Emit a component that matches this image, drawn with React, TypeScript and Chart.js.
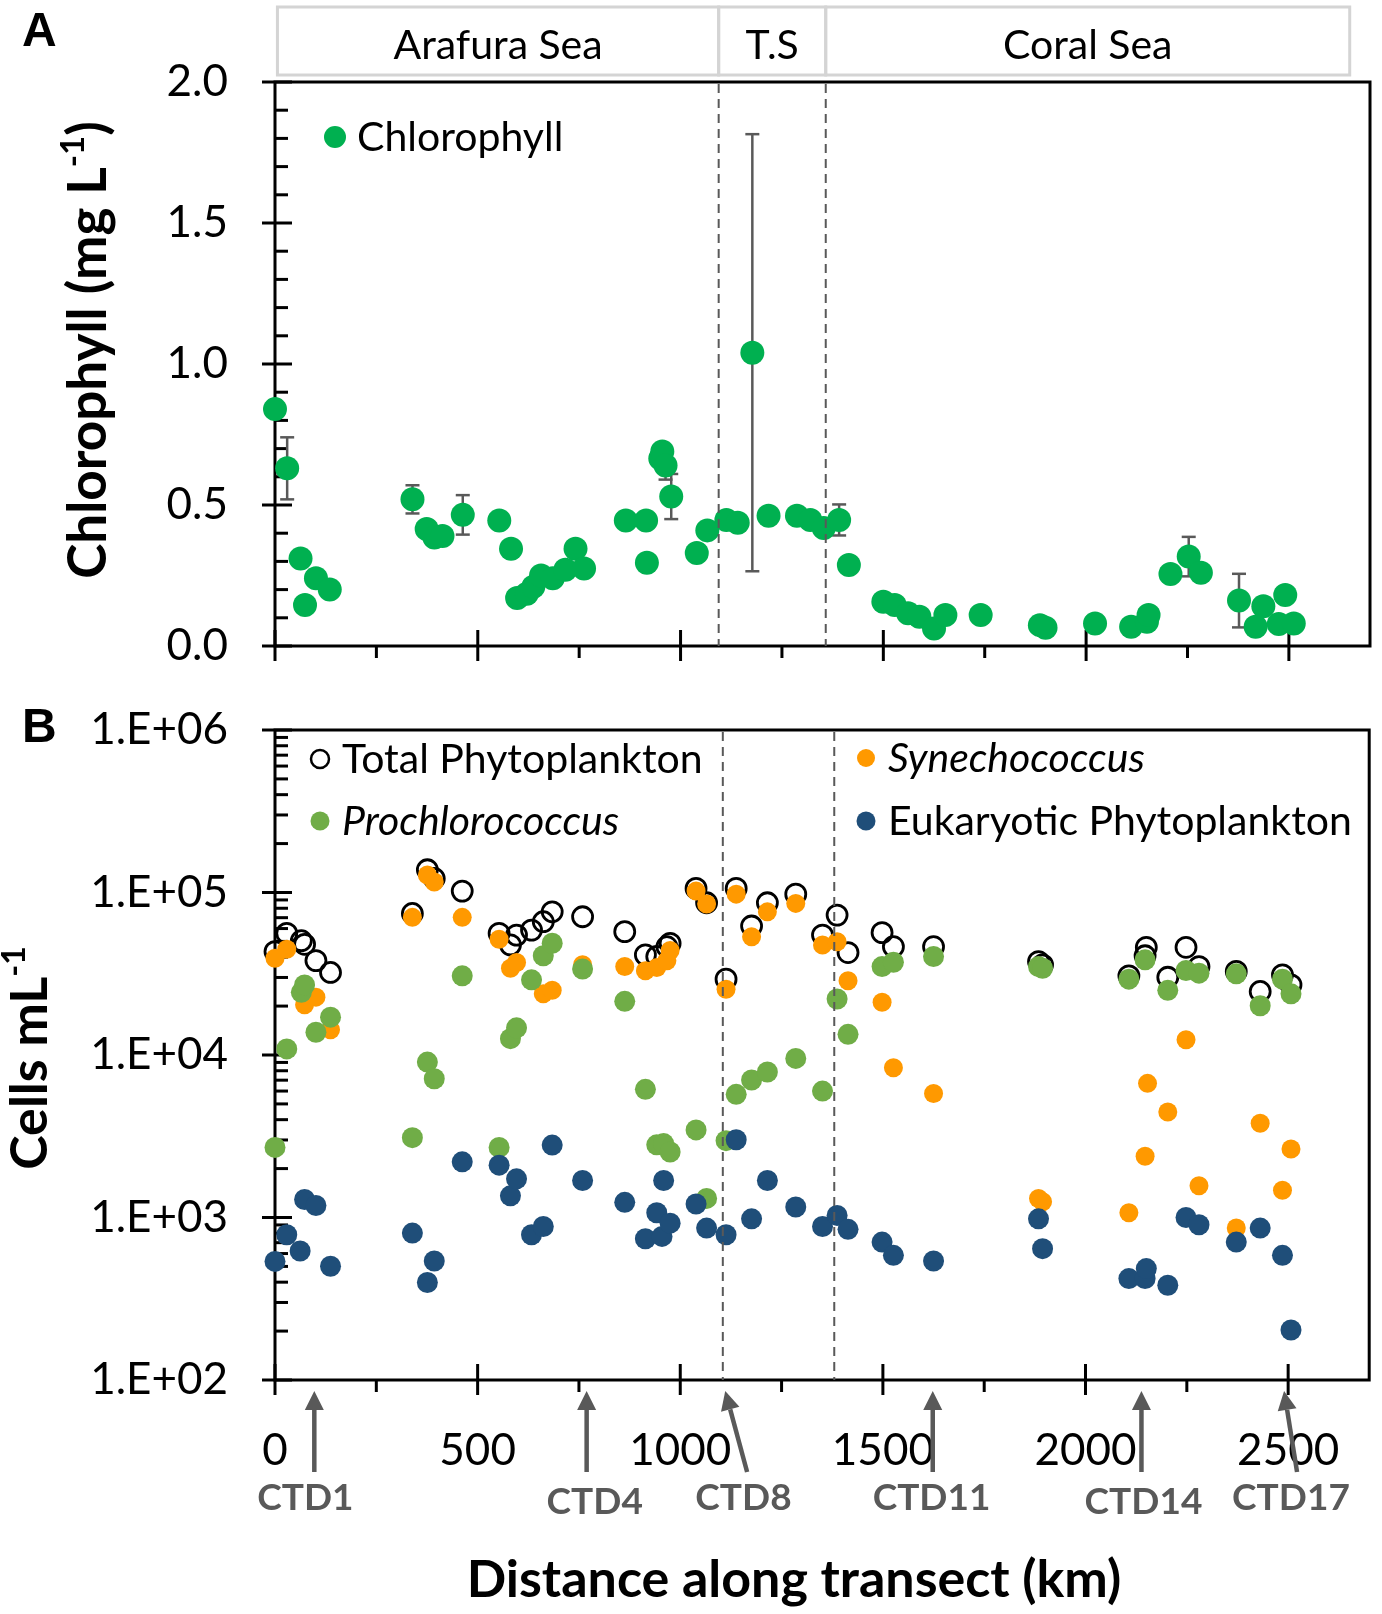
import React, { useEffect, useRef } from 'react';
import { Chart, registerables } from 'chart.js';

Chart.register(...registerables);

const W = 1382;
const TOP_H = 690;
const BOTTOM_H = 924;
const FONT = 'Lato, "Open Sans", sans-serif';
const GREY = '#595959';

// Panel A: distance (km), chlorophyll (mg/L), error (sd)
const chlorophyll: [number, number, number][] = [
  [0, 0.84, 0], [30, 0.63, 0.11], [63, 0.31, 0], [74, 0.145, 0], [101, 0.24, 0], [135, 0.2, 0],
  [339, 0.52, 0.05], [374, 0.415, 0], [393, 0.385, 0], [413, 0.39, 0], [463, 0.465, 0.07],
  [553, 0.445, 0], [582, 0.345, 0], [597, 0.17, 0], [621, 0.185, 0], [637, 0.21, 0], [656, 0.25, 0],
  [685, 0.24, 0], [716, 0.27, 0], [741, 0.345, 0], [762, 0.275, 0],
  [865, 0.445, 0], [915, 0.445, 0], [917, 0.295, 0], [950, 0.665, 0], [955, 0.69, 0],
  [963, 0.64, 0.05], [977, 0.53, 0.08],
  [1040, 0.33, 0], [1066, 0.41, 0], [1113, 0.447, 0], [1141, 0.437, 0], [1177, 1.04, 0.775],
  [1217, 0.462, 0], [1287, 0.462, 0], [1320, 0.447, 0], [1353, 0.418, 0], [1391, 0.447, 0.055],
  [1415, 0.287, 0], [1500, 0.157, 0], [1528, 0.145, 0], [1561, 0.116, 0], [1589, 0.104, 0],
  [1625, 0.062, 0], [1653, 0.11, 0], [1740, 0.11, 0], [1886, 0.074, 0], [1900, 0.065, 0],
  [2022, 0.08, 0], [2111, 0.068, 0], [2150, 0.086, 0], [2154, 0.11, 0], [2208, 0.255, 0],
  [2253, 0.317, 0.07], [2283, 0.26, 0], [2377, 0.161, 0.095], [2418, 0.068, 0], [2437, 0.141, 0],
  [2475, 0.078, 0], [2491, 0.181, 0], [2512, 0.08, 0],
];

const regions = [
  { label: 'Arafura Sea', from: 6, to: 1094 },
  { label: 'T.S', from: 1094, to: 1358 },
  { label: 'Coral Sea', from: 1358, to: 2650 },
];
const boundariesA = [1094, 1358];
const boundariesB = [1105, 1380];

// Panel B: distance (km), cells per mL
const totalPhyto: [number, number][] = [
  [0, 43300], [29, 56100], [65, 50500], [73, 48000], [101, 38100], [137, 32200],
  [339, 74300], [376, 138000], [393, 122000], [462, 102000], [553, 56100], [581, 47600],
  [596, 54700], [633, 58700], [662, 66100], [684, 76100], [759, 70900], [863, 57400],
  [914, 41300], [942, 40400], [967, 46400], [975, 48700], [1039, 106000], [1065, 86500],
  [1113, 29300], [1138, 106000], [1176, 62200], [1215, 86500], [1285, 97700], [1351, 54700],
  [1387, 72600], [1414, 42700], [1498, 56600], [1526, 46400], [1625, 46400], [1884, 37600],
  [1894, 35900], [2107, 30700], [2147, 40800], [2150, 46000], [2203, 30100], [2248, 46000],
  [2280, 35000], [2372, 32700], [2431, 24600], [2486, 31100], [2507, 27000],
];
const synechococcus: [number, number][] = [
  [0, 39400], [29, 44700], [73, 20400], [101, 22700], [137, 14300], [339, 70300],
  [376, 128000], [393, 116000], [462, 70300], [553, 51500], [581, 34200], [596, 37100],
  [662, 23800], [684, 25000], [759, 35900], [863, 35000], [914, 33000], [942, 34500],
  [967, 38000], [975, 44000], [1039, 102000], [1065, 84900], [1113, 25400], [1138, 97700],
  [1176, 53400], [1215, 76000], [1285, 85700], [1351, 47500], [1387, 49800], [1414, 28600],
  [1498, 21100], [1526, 8350], [1625, 5800], [1884, 1310], [1894, 1250], [2107, 1070],
  [2147, 2380], [2153, 6690], [2203, 4460], [2248, 12400], [2280, 1570], [2372, 861],
  [2431, 3800], [2486, 1470], [2507, 2640],
];
const prochlorococcus: [number, number][] = [
  [0, 2700], [29, 10900], [65, 24300], [73, 27000], [101, 13800], [137, 17100], [339, 3100],
  [376, 9040], [393, 7140], [462, 30700], [553, 2700], [581, 12600], [596, 14700], [633, 29000],
  [662, 40800], [684, 48700], [759, 33800], [863, 21400], [914, 6150], [942, 2800], [959, 2850],
  [975, 2530], [1039, 3460], [1065, 1310], [1113, 2970], [1138, 5730], [1176, 7020],
  [1215, 7860], [1285, 9530], [1351, 6000], [1387, 22100], [1414, 13400], [1498, 35000],
  [1526, 37200], [1625, 40400], [1884, 35000], [1894, 34200], [2107, 29300], [2147, 38500],
  [2203, 25000], [2248, 33100], [2280, 31900], [2372, 31600], [2431, 20100], [2486, 29300],
  [2507, 23800],
];
const eukaryotes: [number, number][] = [
  [0, 537], [29, 783], [62, 622], [73, 1290], [101, 1185], [137, 501], [339, 802], [376, 398],
  [393, 540], [462, 2200], [553, 2100], [581, 1360], [596, 1730], [633, 783], [662, 880],
  [684, 2790], [759, 1690], [863, 1240], [914, 740], [942, 1070], [955, 765], [959, 1690],
  [975, 923], [1039, 1210], [1065, 861], [1113, 783], [1138, 3010], [1176, 981], [1215, 1690],
  [1285, 1160], [1351, 880], [1387, 1030], [1414, 846], [1498, 706], [1526, 585], [1625, 540],
  [1884, 981], [1894, 643], [2107, 421], [2147, 421], [2150, 485], [2203, 383], [2248, 1000],
  [2280, 902], [2372, 706], [2431, 861], [2486, 585], [2507, 203],
];

// CTD stations: arrow tip, arrow base and label position (km)
const ctdStations = [
  { label: 'CTD1', tip: 97, base: 97, text: 75, dy: 0 },
  { label: 'CTD4', tip: 769, base: 769, text: 789, dy: 4 },
  { label: 'CTD8', tip: 1111, base: 1165, text: 1156, dy: 0 },
  { label: 'CTD11', tip: 1623, base: 1623, text: 1620, dy: 0 },
  { label: 'CTD14', tip: 2138, base: 2138, text: 2143, dy: 4 },
  { label: 'CTD17', tip: 2490, base: 2522, text: 2507, dy: 0 },
];

const xMajor = [0, 500, 1000, 1500, 2000, 2500];
const xMinor = [250, 750, 1250, 1750, 2250];
const chlTicks = [0, 0.5, 1, 1.5, 2];
const cellTicks = [1e2, 1e3, 1e4, 1e5, 1e6];

const GREEN = '#00B050';
const PRO = '#70AD47';
const SYN = '#FF9900';
const EUK = '#1F4E79';

const line = (ctx: CanvasRenderingContext2D, x1: number, y1: number, x2: number, y2: number) => {
  ctx.beginPath();
  ctx.moveTo(x1, y1);
  ctx.lineTo(x2, y2);
  ctx.stroke();
};

function drawFrame(chart: any, yMajor: number[], yMinor: number[]) {
  const { ctx, chartArea: a, scales } = chart;
  const x = scales.x;
  const y = scales.y;
  ctx.save();
  ctx.strokeStyle = '#000';
  ctx.lineWidth = 3;
  ctx.strokeRect(a.left, a.top, a.right - a.left, a.bottom - a.top);
  xMajor.forEach((v) => {
    const px = x.getPixelForValue(v);
    line(ctx, px, a.bottom - 16, px, a.bottom + 15);
  });
  xMinor.forEach((v) => {
    const px = x.getPixelForValue(v);
    line(ctx, px, a.bottom, px, a.bottom + 12);
  });
  yMajor.forEach((v) => {
    const py = y.getPixelForValue(v);
    line(ctx, a.left - 13, py, a.left + 17, py);
  });
  yMinor.forEach((v) => {
    const py = y.getPixelForValue(v);
    line(ctx, a.left, py, a.left + 13, py);
  });
  ctx.restore();
}

function drawDashed(chart: any, kms: number[]) {
  const { ctx, chartArea: a, scales } = chart;
  ctx.save();
  ctx.strokeStyle = GREY;
  ctx.lineWidth = 2;
  ctx.setLineDash([9, 6]);
  kms.forEach((k) => {
    const px = scales.x.getPixelForValue(k);
    line(ctx, px, a.top + 2, px, a.bottom);
  });
  ctx.restore();
}

function drawRotatedTitle(ctx: CanvasRenderingContext2D, main: string, sup: string, tail: string,
  x: number, y: number, size: number) {
  ctx.save();
  ctx.translate(x, y);
  ctx.rotate(-Math.PI / 2);
  const big = `bold ${size}px ${FONT}`;
  const small = `bold ${Math.round(size * 0.62)}px ${FONT}`;
  ctx.font = big;
  const w1 = ctx.measureText(main).width;
  const w3 = ctx.measureText(tail).width;
  ctx.font = small;
  const w2 = ctx.measureText(sup).width;
  let cx = -(w1 + w2 + w3) / 2;
  ctx.fillStyle = '#000';
  ctx.textAlign = 'left';
  ctx.textBaseline = 'alphabetic';
  ctx.font = big;
  ctx.fillText(main, cx, 0);
  cx += w1;
  ctx.font = small;
  ctx.fillText(sup, cx, -size * 0.42);
  cx += w2;
  ctx.font = big;
  ctx.fillText(tail, cx, 0);
  ctx.restore();
}

function drawLetter(ctx: CanvasRenderingContext2D, t: string, x: number, y: number) {
  ctx.save();
  ctx.fillStyle = '#000';
  ctx.font = 'bold 48px "Liberation Sans", Arial, sans-serif';
  ctx.textAlign = 'left';
  ctx.textBaseline = 'alphabetic';
  ctx.fillText(t, x, y);
  ctx.restore();
}

function legendItem(ctx: CanvasRenderingContext2D, x: number, y: number, r: number, fill: string | null,
  label: string, italic: boolean) {
  ctx.save();
  ctx.beginPath();
  ctx.arc(x, y, r, 0, Math.PI * 2);
  if (fill) {
    ctx.fillStyle = fill;
    ctx.fill();
  } else {
    ctx.strokeStyle = '#000';
    ctx.lineWidth = 2.5;
    ctx.stroke();
  }
  ctx.fillStyle = '#000';
  ctx.font = `${italic ? 'italic ' : ''}41px ${FONT}`;
  ctx.textAlign = 'left';
  ctx.textBaseline = 'middle';
  ctx.fillText(label, x + 22, y + 1);
  ctx.restore();
}

const chlMinor: number[] = [];
for (let i = 1; i < 20; i++) if (i % 5 !== 0) chlMinor.push(i / 10);
const cellMinor: number[] = [];
for (let d = 100; d < 1e6; d *= 10) for (let m = 2; m < 10; m++) cellMinor.push(d * m);

const panelA = {
  id: 'panelA',
  beforeDatasetsDraw(chart: any) {
    const { ctx, scales } = chart;
    drawFrame(chart, chlTicks, chlMinor);
    ctx.save();
    ctx.strokeStyle = GREY;
    ctx.lineWidth = 2.5;
    chlorophyll.forEach(([k, v, e]) => {
      if (!e) return;
      const px = scales.x.getPixelForValue(k);
      const hi = scales.y.getPixelForValue(v + e);
      const lo = scales.y.getPixelForValue(v - e);
      line(ctx, px, hi, px, lo);
      line(ctx, px - 7, hi, px + 7, hi);
      line(ctx, px - 7, lo, px + 7, lo);
    });
    ctx.restore();
  },
  afterDatasetsDraw(chart: any) {
    const { ctx, scales } = chart;
    drawDashed(chart, boundariesA);
    ctx.save();
    ctx.strokeStyle = '#D4D4D4';
    ctx.lineWidth = 3;
    ctx.fillStyle = '#000';
    ctx.font = `41px ${FONT}`;
    ctx.textAlign = 'center';
    ctx.textBaseline = 'middle';
    regions.forEach((r) => {
      const x1 = scales.x.getPixelForValue(r.from);
      const x2 = scales.x.getPixelForValue(r.to);
      ctx.strokeRect(x1, 7, x2 - x1, 68);
      ctx.fillText(r.label, (x1 + x2) / 2, 46);
    });
    ctx.restore();
    legendItem(ctx, 335, 137, 11, GREEN, 'Chlorophyll', false);
    drawLetter(ctx, 'A', 22, 46);
    drawRotatedTitle(ctx, 'Chlorophyll (mg L', '-1', ')', 106, 350, 53);
  },
};

const panelB = {
  id: 'panelB',
  beforeDatasetsDraw(chart: any) {
    drawFrame(chart, cellTicks, cellMinor);
  },
  afterDatasetsDraw(chart: any) {
    const { ctx, scales } = chart;
    drawDashed(chart, boundariesB);
    legendItem(ctx, 320, 69, 9, null, 'Total Phytoplankton', false);
    legendItem(ctx, 320, 131, 9.5, PRO, 'Prochlorococcus', true);
    legendItem(ctx, 866, 68, 9, SYN, 'Synechococcus', true);
    legendItem(ctx, 866, 131, 9.5, EUK, 'Eukaryotic Phytoplankton', false);
    drawLetter(ctx, 'B', 22, 52);
    drawRotatedTitle(ctx, 'Cells mL', '-1', '', 47, 368, 52);

    ctx.save();
    ctx.fillStyle = '#000';
    ctx.font = `bold 52px ${FONT}`;
    ctx.textAlign = 'center';
    ctx.textBaseline = 'alphabetic';
    ctx.fillText('Distance along transect (km)', 794, 907);

    ctx.strokeStyle = GREY;
    ctx.fillStyle = GREY;
    ctdStations.forEach((s) => {
      const tx = scales.x.getPixelForValue(s.tip);
      const bx = scales.x.getPixelForValue(s.base);
      const ty = 701;
      const by = 782;
      const ang = Math.atan2(ty - by, tx - bx);
      const head = 19;
      const half = 9.5;
      const hx = tx - head * Math.cos(ang);
      const hy = ty - head * Math.sin(ang);
      ctx.lineWidth = 4.5;
      line(ctx, bx, by, hx, hy);
      ctx.beginPath();
      ctx.moveTo(tx, ty);
      ctx.lineTo(hx + half * Math.sin(ang), hy - half * Math.cos(ang));
      ctx.lineTo(hx - half * Math.sin(ang), hy + half * Math.cos(ang));
      ctx.closePath();
      ctx.fill();
      ctx.font = `bold 37px ${FONT}`;
      ctx.textAlign = 'center';
      ctx.textBaseline = 'middle';
      ctx.fillText(s.label, scales.x.getPixelForValue(s.text), 808 + s.dy);
    });
    ctx.restore();
  },
};

const toXY = (arr: [number, number][]) => arr.map((p) => ({ x: p[0], y: p[1] }));

const filled = (data: [number, number][], color: string, r: number) => ({
  data: toXY(data),
  showLine: false,
  clip: false,
  pointRadius: r,
  pointHoverRadius: r,
  pointBackgroundColor: color,
  pointBorderColor: color,
  pointBorderWidth: 0,
});

// keep the plot area exactly where the layout padding puts it
const fixY = (width: number) => (s: any) => {
  s.width = width;
  s.paddingTop = 0;
  s.paddingBottom = 0;
};
const fixX = (height: number) => (s: any) => {
  s.height = height;
  s.paddingLeft = 0;
  s.paddingRight = 0;
};

const App: React.FC = () => {
  const topRef = useRef<HTMLCanvasElement | null>(null);
  const bottomRef = useRef<HTMLCanvasElement | null>(null);

  useEffect(() => {
    if (!topRef.current || !bottomRef.current) return;

    const tickFont = { family: FONT, size: 44 };
    const noGrid = { display: false, drawTicks: false };

    const top = new Chart(topRef.current, {
      type: 'scatter',
      data: {
        datasets: [filled(chlorophyll.map((p) => [p[0], p[1]]) as [number, number][], GREEN, 12)],
      },
      options: {
        animation: false,
        responsive: false,
        devicePixelRatio: 1,
        events: [],
        layout: { padding: { top: 82, right: 10, left: 0, bottom: 0 } },
        plugins: { legend: { display: false }, tooltip: { enabled: false } },
        scales: {
          x: {
            type: 'linear', min: 0, max: 2700,
            grid: noGrid, border: { display: false },
            ticks: { display: false },
            afterFit: fixX(TOP_H - 646),
          },
          y: {
            type: 'linear', min: 0, max: 2,
            grid: noGrid, border: { display: false },
            afterBuildTicks: (s: any) => { s.ticks = chlTicks.map((value) => ({ value })); },
            ticks: { padding: 47, color: '#000', font: tickFont, callback: (v: any) => Number(v).toFixed(1) },
            afterFit: fixY(275),
          },
        },
      },
      plugins: [panelA],
    } as any);

    const bottom = new Chart(bottomRef.current, {
      type: 'scatter',
      data: {
        datasets: [
          filled(eukaryotes, EUK, 10.5),
          filled(prochlorococcus, PRO, 10.5),
          filled(synechococcus, SYN, 9.5),
          {
            data: toXY(totalPhyto),
            showLine: false,
            clip: false,
            pointRadius: 10,
            pointHoverRadius: 10,
            pointBackgroundColor: 'rgba(0,0,0,0)',
            pointBorderColor: '#000',
            pointBorderWidth: 2.8,
          },
        ],
      },
      options: {
        animation: false,
        responsive: false,
        devicePixelRatio: 1,
        events: [],
        layout: { padding: { top: 40, right: 10, left: 0, bottom: 0 } },
        plugins: { legend: { display: false }, tooltip: { enabled: false } },
        scales: {
          x: {
            type: 'linear', min: 0, max: 2700,
            grid: noGrid, border: { display: false },
            afterBuildTicks: (s: any) => { s.ticks = xMajor.map((value) => ({ value })); },
            ticks: {
              padding: 44, color: '#000', font: tickFont, maxRotation: 0, autoSkip: false,
              callback: (v: any) => String(v),
            },
            afterFit: fixX(BOTTOM_H - 690),
          },
          y: {
            type: 'logarithmic', min: 100, max: 1e6,
            grid: noGrid, border: { display: false },
            afterBuildTicks: (s: any) => { s.ticks = cellTicks.map((value) => ({ value })); },
            ticks: {
              padding: 47, color: '#000', font: tickFont, autoSkip: false,
              callback: (v: any) => `1.E+${String(Math.round(Math.log10(Number(v)))).padStart(2, '0')}`,
            },
            afterFit: fixY(275),
          },
        },
      },
      plugins: [panelB],
    } as any);

    return () => {
      top.destroy();
      bottom.destroy();
    };
  }, []);

  return (
    <div style={{ position: 'absolute', left: 0, top: 0, width: W, height: TOP_H + BOTTOM_H, background: '#fff' }}>
      <canvas ref={topRef} width={W} height={TOP_H}
        style={{ position: 'absolute', left: 0, top: 0, width: W, height: TOP_H }} />
      <canvas ref={bottomRef} width={W} height={BOTTOM_H}
        style={{ position: 'absolute', left: 0, top: TOP_H, width: W, height: BOTTOM_H }} />
    </div>
  );
};

export default App;
